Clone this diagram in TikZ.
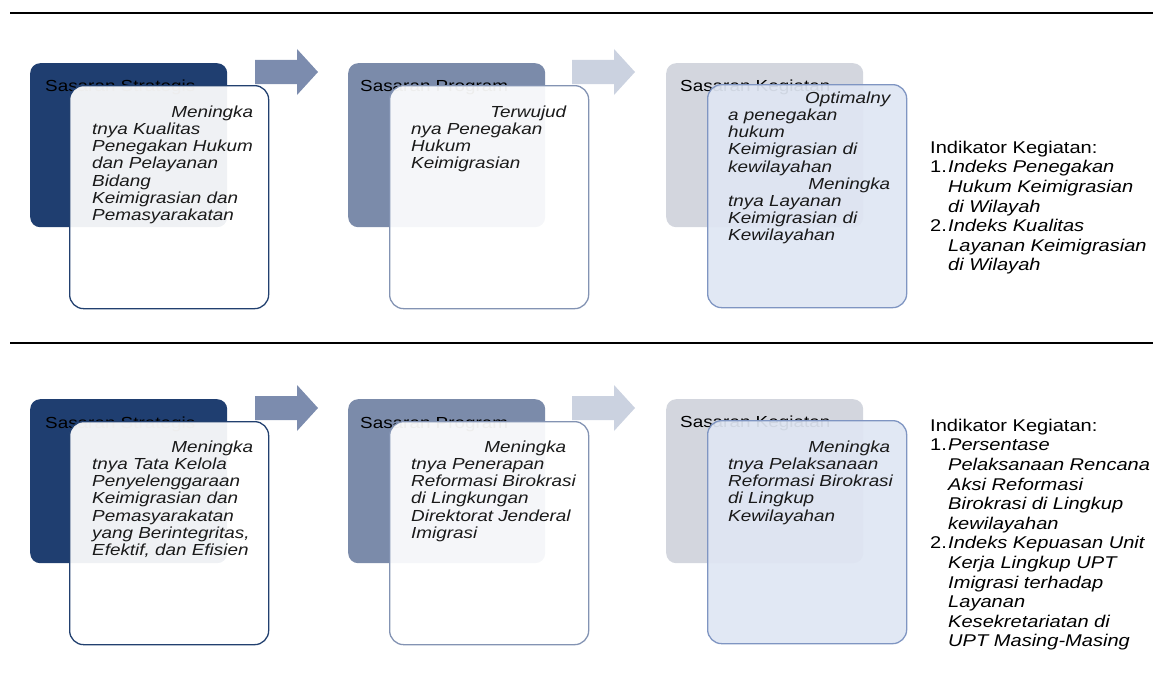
\documentclass[tikz,border=0pt]{standalone}
\usepackage{fontspec}
\newfontfamily\bxfont[FakeStretch=1.18]{Liberation Sans}
\newfontfamily\rtfont[FakeStretch=1.18]{Liberation Sans}
\definecolor{navy}{HTML}{1F3E70}
\definecolor{navyline}{HTML}{22406F}
\definecolor{slate}{HTML}{7B8BAA}
\definecolor{slateline}{HTML}{8393B3}
\definecolor{pale}{HTML}{D3D6DE}
\definecolor{paleline}{HTML}{7F95C2}
\definecolor{palefill}{HTML}{DFE6F3}
\definecolor{arrA}{HTML}{7C8CAE}
\definecolor{arrB}{HTML}{CBD2E0}
\definecolor{txt}{HTML}{1A1A1A}
\tikzset{
  backbox/.style={rounded corners=10pt, draw=none, inner sep=0, anchor=north west, minimum width=197pt, minimum height=164pt},
  frontbox/.style={rounded corners=14pt, line width=1.3pt, inner sep=0, anchor=north west, minimum width=199pt, minimum height=223pt, fill opacity=0.93},
  hdr/.style={anchor=base west, inner sep=0, font=\bxfont\fontsize{16}{17.2}\selectfont, text=black},
  body/.style={anchor=north west, inner sep=0, align=left, font=\bxfont\itshape\fontsize{16}{17.2}\selectfont, text=txt},
  ind/.style={anchor=north west, inner sep=0, align=left, font=\rtfont\fontsize{17}{19.6}\selectfont, text=black},
  seprule/.style={line width=2.5pt, black},
}
\newcommand{\fl}[2]{\rule{0pt}{12pt}\makebox[#1][r]{#2}}
\newcommand{\num}[1]{\makebox[18pt][l]{#1}}
\newcommand{\ind}{\hspace*{18pt}}
\begin{document}
\begin{tikzpicture}[x=1pt,y=-1pt]
\useasboundingbox (0,0) rectangle (1153,677);
% separator rules
\coordinate (r1a) at (10,13); \coordinate (r1b) at (1153,13);
\coordinate (r2a) at (10,343); \coordinate (r2b) at (1153,343);
\draw[seprule] (r1a) -- (r1b);
\draw[seprule] (r2a) -- (r2b);

% ===== Row 1 =====
\node[backbox, fill=navy] (b11) at (30,63) {};
\node[hdr] (h11) at (45,92) {Sasaran Strategis};
\node[frontbox, draw=navyline, fill=white] (f11) at (69,85) {};
\node[body] (t11) at (92,105) {\fl{161pt}{Meningka}\\tnya Kualitas\\Penegakan Hukum\\dan Pelayanan\\Bidang\\Keimigrasian dan\\Pemasyarakatan};

\fill[arrA] (255,60) -- (297,60) -- (297,49) -- (318,72) -- (297,95) -- (297,84) -- (255,84) -- cycle;

\node[backbox, fill=slate] (b12) at (348,63) {};
\node[hdr] (h12) at (360,92) {Sasaran Program};
\node[frontbox, draw=slateline, fill=white] (f12) at (389,85) {};
\node[body] (t12) at (411,105) {\fl{155pt}{Terwujud}\\nya Penegakan\\Hukum\\Keimigrasian};

\fill[arrB] (572,60) -- (614,60) -- (614,49) -- (635,72) -- (614,95) -- (614,84) -- (572,84) -- cycle;

\node[backbox, fill=pale] (b13) at (666,63) {};
\node[hdr] (h13) at (680,91) {Sasaran Kegiatan};
\node[frontbox, draw=paleline, fill=palefill] (f13) at (707,84) {};
\node[body] (t13) at (728,91) {\fl{162pt}{Optimalny}\\a penegakan\\hukum\\Keimigrasian di\\kewilayahan\\\makebox[162pt][r]{Meningka}\\tnya Layanan\\Keimigrasian di\\Kewilayahan};

\node[ind] (i1) at (930,140) {\rule{0pt}{13pt}Indikator Kegiatan:\\
\num{1.}\textit{Indeks Penegakan}\\
\ind\textit{Hukum Keimigrasian}\\
\ind\textit{di Wilayah}\\
\num{2.}\textit{Indeks Kualitas}\\
\ind\textit{Layanan Keimigrasian}\\
\ind\textit{di Wilayah}};

% ===== Row 2 =====
\node[backbox, fill=navy] (b21) at (30,399) {};
\node[hdr] (h21) at (45,428) {Sasaran Strategis};
\node[frontbox, draw=navyline, fill=white] (f21) at (69,421) {};
\node[body] (t21) at (92,440) {\fl{161pt}{Meningka}\\tnya Tata Kelola\\Penyelenggaraan\\Keimigrasian dan\\Pemasyarakatan\\yang Berintegritas,\\Efektif, dan Efisien};

\fill[arrA] (255,396) -- (297,396) -- (297,385) -- (318,408) -- (297,431) -- (297,420) -- (255,420) -- cycle;

\node[backbox, fill=slate] (b22) at (348,399) {};
\node[hdr] (h22) at (360,428) {Sasaran Program};
\node[frontbox, draw=slateline, fill=white] (f22) at (389,421) {};
\node[body] (t22) at (411,440) {\fl{155pt}{Meningka}\\tnya Penerapan\\Reformasi Birokrasi\\di Lingkungan\\Direktorat Jenderal\\Imigrasi};

\fill[arrB] (572,396) -- (614,396) -- (614,385) -- (635,408) -- (614,431) -- (614,420) -- (572,420) -- cycle;

\node[backbox, fill=pale] (b23) at (666,399) {};
\node[hdr] (h23) at (680,427) {Sasaran Kegiatan};
\node[frontbox, draw=paleline, fill=palefill] (f23) at (707,420) {};
\node[body] (t23) at (728,440) {\fl{162pt}{Meningka}\\tnya Pelaksanaan\\Reformasi Birokrasi\\di Lingkup\\Kewilayahan};

\node[ind] (i2) at (930,418) {\rule{0pt}{13pt}Indikator Kegiatan:\\
\num{1.}\textit{Persentase}\\
\ind\textit{Pelaksanaan Rencana}\\
\ind\textit{Aksi Reformasi}\\
\ind\textit{Birokrasi di Lingkup}\\
\ind\textit{kewilayahan}\\
\num{2.}\textit{Indeks Kepuasan Unit}\\
\ind\textit{Kerja Lingkup UPT}\\
\ind\textit{Imigrasi terhadap}\\
\ind\textit{Layanan}\\
\ind\textit{Kesekretariatan di}\\
\ind\textit{UPT Masing-Masing}};
\end{tikzpicture}
\end{document}
